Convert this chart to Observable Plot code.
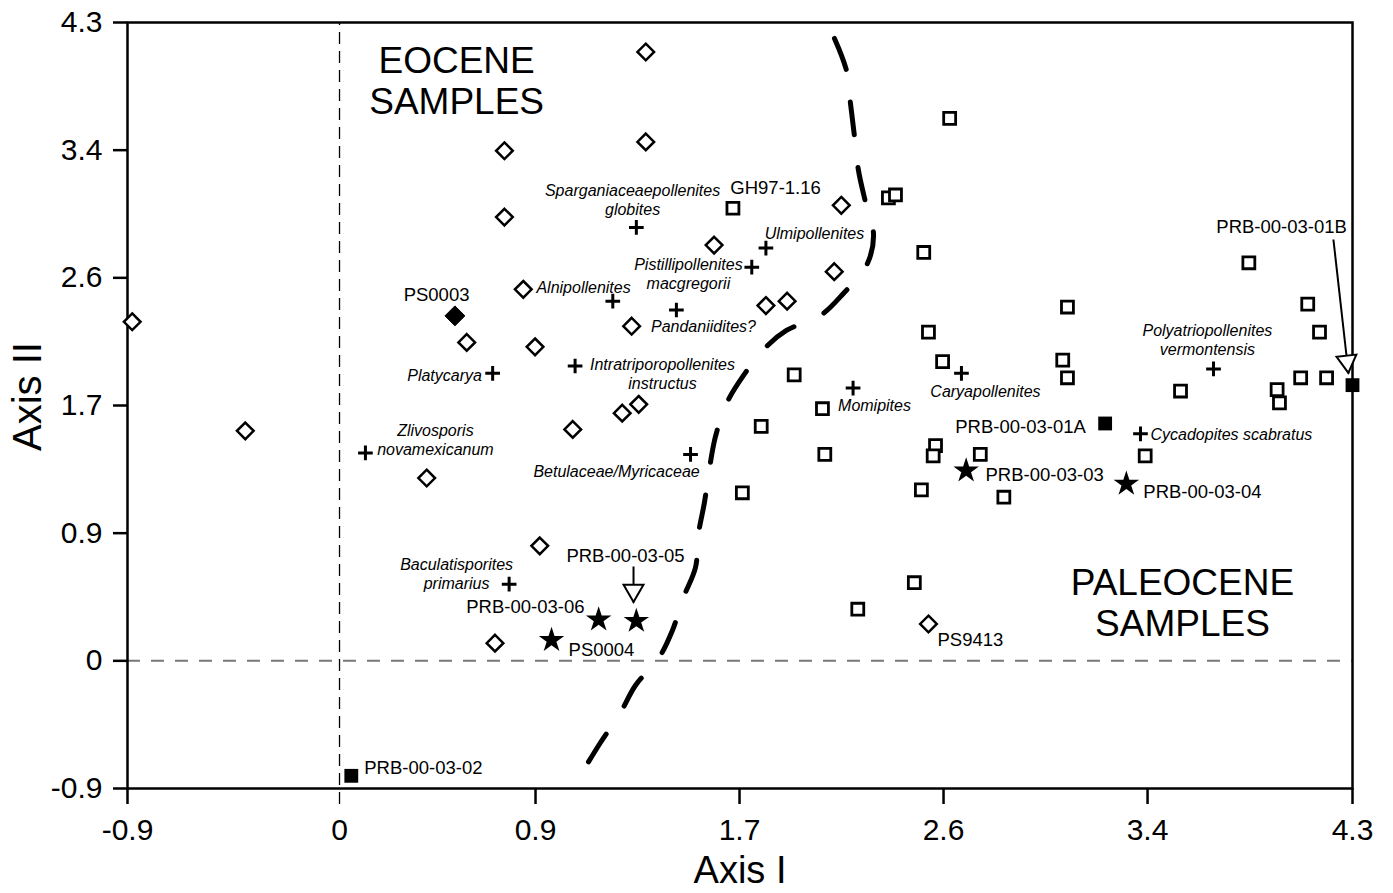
<!DOCTYPE html>
<html><head><meta charset="utf-8">
<script src="https://cdn.jsdelivr.net/npm/d3@7"></script>
<script src="https://cdn.jsdelivr.net/npm/@observablehq/plot@0.6"></script>
<style>body{margin:0;background:#fff}</style>
</head><body><div id="chart"></div>
<script>
// ---- axis ticks ----
const xTicks = [-0.9, 0, 0.832, 1.698, 2.564, 3.43, 4.3];
const xTickLabels = ["-0.9", "0", "0.9", "1.7", "2.6", "3.4", "4.3"];
const yTicks = [-0.866, 0, 0.866, 1.732, 2.598, 3.464, 4.33];
const yTickLabels = ["-0.9", "0", "0.9", "1.7", "2.6", "3.4", "4.3"];

// ---- Eocene samples (open diamonds) ----
const eoceneX = [-0.88, -0.40, 1.30, 1.30, 0.70, 0.70, 1.59, 2.13, 2.10, 0.78, 1.24, 1.81, 1.90, 0.54, 0.83, 1.27, 1.20, 0.99, 0.37, 0.85, 0.66, 2.50];
const eoceneY = [2.30, 1.56, 4.13, 3.52, 3.46, 3.01, 2.82, 3.09, 2.64, 2.52, 2.27, 2.41, 2.44, 2.16, 2.13, 1.74, 1.68, 1.57, 1.24, 0.78, 0.12, 0.25];

// ---- Paleocene samples (open squares) ----
const paleoX = [1.67, 2.33, 2.36, 2.59, 2.48, 3.86, 3.09, 4.11, 2.50, 4.16, 1.93, 2.05, 1.79, 2.06, 1.71, 2.56, 3.07, 3.09, 3.57, 3.98, 3.99, 4.08, 4.19, 2.53, 2.52, 2.72, 2.47, 2.82, 3.42, 2.44, 2.20];
const paleoY = [3.07, 3.14, 3.16, 3.68, 2.77, 2.70, 2.40, 2.42, 2.23, 2.23, 1.94, 1.71, 1.59, 1.40, 1.14, 2.03, 2.04, 1.92, 1.83, 1.84, 1.75, 1.92, 1.92, 1.46, 1.39, 1.40, 1.16, 1.11, 1.39, 0.53, 0.35];

// ---- filled diamond (PS0003) ----
const filledDiamondX = [0.49];
const filledDiamondY = [2.34];

// ---- filled squares ----
const filledSquareX = [3.25, 0.05, 4.30];
const filledSquareY = [1.61, -0.78, 1.87];

// ---- stars ----
const starX = [0.90, 1.10, 1.26, 2.66, 3.34];
const starY = [0.14, 0.28, 0.27, 1.29, 1.20];

// ---- taxa (crosses) ----
const taxaNames = ["Sparganiaceaepollenites\nglobites", "Ulmipollenites", "Pistillipollenites\nmacgregorii", "Alnipollenites", "Pandaniidites?", "Intratriporopollenites\ninstructus", "Platycarya", "Momipites", "Caryapollenites", "Polyatriopollenites\nvermontensis", "Cycadopites scabratus", "Zlivosporis\nnovamexicanum", "Betulaceae/Myricaceae", "Baculatisporites\nprimarius"];
const taxaX = [1.26, 1.81, 1.75, 1.16, 1.43, 1.00, 0.65, 2.18, 2.64, 3.71, 3.40, 0.11, 1.49, 0.72];
const taxaY = [2.94, 2.80, 2.67, 2.44, 2.38, 2.00, 1.95, 1.85, 1.95, 1.98, 1.54, 1.41, 1.40, 0.52];
const taxaLabelX = [1.244, 2.016, 1.481, 1.036, 1.545, 1.371, 0.446, 2.271, 2.742, 3.684, 3.786, 0.407, 1.176, 0.497];
const taxaLabelY = [3.129, 2.906, 2.627, 2.539, 2.275, 1.952, 1.942, 1.739, 1.834, 2.180, 1.542, 1.501, 1.291, 0.596];

// ---- sample labels ----
const sampleNames = ["PS0003", "GH97-1.16", "PRB-00-03-05", "PRB-00-03-06", "PS0004", "PRB-00-03-01A", "PRB-00-03-03", "PRB-00-03-04", "PS9413", "PRB-00-03-01B", "PRB-00-03-02"];
const sampleLabelX = [0.412, 1.851, 1.214, 0.789, 1.112, 2.891, 2.993, 3.663, 2.678, 3.999, 0.356];
const sampleLabelY = [2.478, 3.204, 0.708, 0.362, 0.070, 1.583, 1.257, 1.142, 0.138, 2.939, -0.730];

// ---- region labels ----
const regionNames = ["EOCENE\nSAMPLES", "PALEOCENE\nSAMPLES"];
const regionX = [0.497, 3.578];
const regionY = [3.937, 0.396];

// ---- Eocene / Paleocene boundary ----
const boundaryX = [2.101, 2.152, 2.169, 2.186, 2.203, 2.233, 2.267, 2.237, 2.139, 2.042, 1.897, 1.808, 1.715, 1.643, 1.596, 1.571, 1.549, 1.524, 1.511, 1.460, 1.413, 1.354, 1.256, 1.193, 1.108, 1.040];
const boundaryY = [4.222, 4.004, 3.781, 3.557, 3.326, 3.109, 2.885, 2.682, 2.492, 2.343, 2.241, 2.125, 1.936, 1.746, 1.522, 1.311, 1.074, 0.864, 0.633, 0.430, 0.206, 0.016, -0.167, -0.350, -0.554, -0.730];

// ---- arrows (shaft start, tip, head centre, head rotation) ----
const arrowX1 = [1.248, 4.219];
const arrowY1 = [0.640, 2.858];
const arrowX2 = [1.248, 4.283];
const arrowY2 = [0.396, 1.949];
const arrowHeadX = [1.248, 4.277];
const arrowHeadY = [0.477, 2.031];
const arrowHeadRotate = [180, 173.6];

// ---- build tables ----
const zipXY = (xs, ys) => xs.map((x, i) => ({x, y: ys[i]}));
const eocene = zipXY(eoceneX, eoceneY);
const paleo = zipXY(paleoX, paleoY);
const filledDiamond = zipXY(filledDiamondX, filledDiamondY);
const filledSquares = zipXY(filledSquareX, filledSquareY);
const stars = zipXY(starX, starY);
const taxa = taxaNames.map((t, i) => ({t, x: taxaX[i], y: taxaY[i], lx: taxaLabelX[i], ly: taxaLabelY[i]}));
const samples = sampleNames.map((t, i) => ({t, x: sampleLabelX[i], y: sampleLabelY[i]}));
const regions = regionNames.map((t, i) => ({t, x: regionX[i], y: regionY[i]}));
const boundary = zipXY(boundaryX, boundaryY);
const arrows = arrowX1.map((x1, i) => ({x1, y1: arrowY1[i], x2: arrowX2[i], y2: arrowY2[i], hx: arrowHeadX[i], hy: arrowHeadY[i], rot: arrowHeadRotate[i]}));

const chart = Plot.plot({
  width: 1393,
  height: 893,
  marginLeft: 127,
  marginRight: 41,
  marginTop: 22,
  marginBottom: 105,
  style: {fontFamily: "'Liberation Sans', Arial, Helvetica, sans-serif", background: "white", color: "black", overflow: "visible"},
  x: {domain: [-0.9, 4.3]},
  y: {domain: [-0.866, 4.33]},
  marks: [
    Plot.ruleY([0], {x1: -0.9, x2: 4.3, stroke: "#777", strokeWidth: 2, strokeDasharray: "13,11"}),
    Plot.ruleX([0], {y1: -0.975, y2: 4.33, stroke: "black", strokeWidth: 1.3, strokeDasharray: "12,7"}),
    Plot.frame({stroke: "black", strokeWidth: 2.5}),
    Plot.axisX(xTicks.filter(d => d !== 0), {tickSize: 16, tickPadding: 14, strokeWidth: 2.5, fontSize: 30, tickFormat: d => xTickLabels[xTicks.indexOf(d)], label: null}),
    Plot.axisX([0], {tickSize: 0, tickPadding: 30, fontSize: 30, tickFormat: d => xTickLabels[xTicks.indexOf(d)], label: null}),
    Plot.axisY(yTicks, {tickSize: 14, tickPadding: 11, strokeWidth: 2.5, fontSize: 30, tickFormat: d => yTickLabels[yTicks.indexOf(d)], label: null}),
    Plot.text(["Axis I"], {text: d => d, frameAnchor: "bottom", lineAnchor: "middle", textAnchor: "middle", dy: 82, fontSize: 38}),
    Plot.text(["Axis II"], {text: d => d, frameAnchor: "left", lineAnchor: "middle", textAnchor: "middle", dx: -99, dy: -9, rotate: -90, fontSize: 40}),
    Plot.line(boundary, {x: "x", y: "y", curve: "catmull-rom", stroke: "black", strokeWidth: 5, strokeDasharray: "33,33"}),
    Plot.dot(eocene, {x: "x", y: "y", symbol: "diamond2", r: 7.5, stroke: "black", strokeWidth: 2.5, fill: "white"}),
    Plot.dot(paleo, {x: "x", y: "y", symbol: "square2", r: 7.6, stroke: "black", strokeWidth: 2.8, fill: "white"}),
    Plot.dot(filledDiamond, {x: "x", y: "y", symbol: "diamond2", r: 9, fill: "black", stroke: "black", strokeWidth: 1}),
    Plot.dot(filledSquares, {x: "x", y: "y", symbol: "square", r: 7.8, fill: "black"}),
    Plot.dot(stars, {x: "x", y: "y", symbol: "star", r: 8, fill: "black"}),
    Plot.dot(taxa, {x: "x", y: "y", symbol: "plus", r: 4.8, stroke: "black", strokeWidth: 3}),
    Plot.link(arrows, {x1: "x1", y1: "y1", x2: "x2", y2: "y2", stroke: "black", strokeWidth: 2}),
    Plot.dot(arrows, {x: "hx", y: "hy", symbol: "triangle2", rotate: "rot", r: 9.5, stroke: "black", strokeWidth: 2, fill: "white"}),
    Plot.text(taxa, {x: "lx", y: "ly", text: "t", fontSize: 16, fontStyle: "italic", lineHeight: 1.2}),
    Plot.text(samples, {x: "x", y: "y", text: "t", fontSize: 18.5}),
    Plot.text(regions, {x: "x", y: "y", text: "t", fontSize: 37, lineHeight: 1.1})
  ]
});
document.getElementById("chart").appendChild(chart);
</script>
</body></html>
